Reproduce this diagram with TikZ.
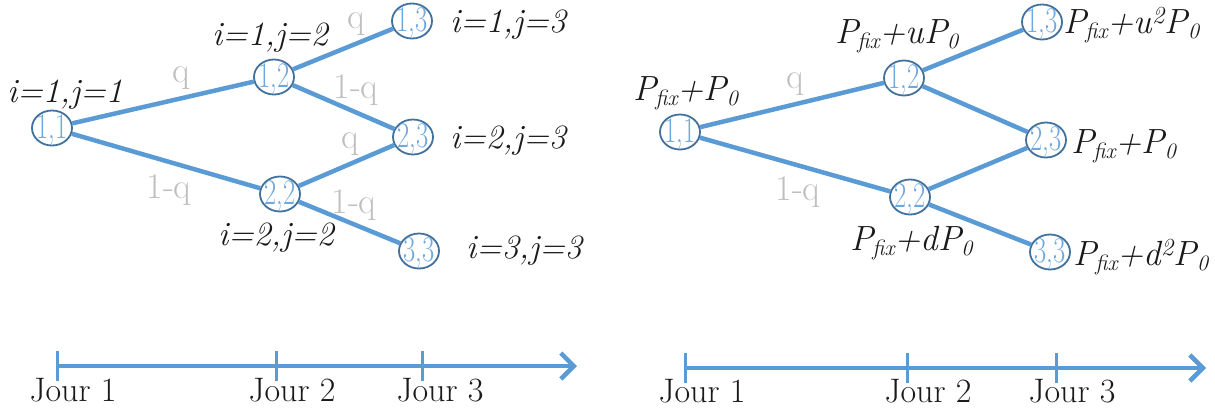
\documentclass[tikz,border=0pt]{standalone}
\usepackage{graphicx}
\usetikzlibrary{shapes.geometric,arrows.meta}
\definecolor{lineblue}{HTML}{5B9BD5}
\definecolor{ringblue}{HTML}{41719C}
\definecolor{numblue}{HTML}{6FA8DC}
\definecolor{lblgray}{HTML}{BFBFBF}
\definecolor{txt}{HTML}{1A1A1A}
\newcommand{\Pf}{P\kern-1pt\raisebox{-0.35ex}{\fontsize{22}{22}\selectfont fix}}
\newcommand{\Pz}{P\raisebox{-0.35ex}{\fontsize{22}{22}\selectfont 0}}
\newcommand{\st}[1]{\makebox[0pt]{\raisebox{-0.3em}[0pt][0pt]{\scalebox{0.74}[1]{#1}}}}
\begin{document}
\begin{tikzpicture}[x=1pt,y=-1pt,
  state/.style={ellipse,draw=ringblue,line width=1.8pt,fill=white,minimum width=40pt,minimum height=35pt,inner sep=0pt,text=numblue,font=\fontsize{36}{36}\selectfont},
  edge/.style={draw=lineblue,line width=4.5pt},
  plabel/.style={text=lblgray,font=\fontsize{36}{36}\selectfont,inner sep=0pt},
  ijlabel/.style={text=txt,font=\fontsize{34}{34}\selectfont\itshape,inner sep=0pt,anchor=base},
  plab/.style={text=txt,font=\fontsize{35}{35}\selectfont\itshape,inner sep=0pt,anchor=base west},
  axis/.style={draw=lineblue,line width=4.5pt,-{Straight Barb[length=13pt,width=26pt,line width=4.5pt]}},
  tickmark/.style={draw=lineblue,line width=3pt},
  jour/.style={text=txt,font=\fontsize{34}{34}\selectfont,inner sep=0pt,anchor=base}]
\useasboundingbox (0,0) rectangle (1215,408);
% ---------- left tree ----------
\node[state] (n11) at (52,128) {\st{1,1}};
\node[state] (n12) at (274,77) {\st{1,2}};
\node[state] (n13) at (412,21) {\st{1,3}};
\node[state] (n23) at (413,137) {\st{2,3}};
\node[state] (n22) at (280,194) {\st{2,2}};
\node[state] (n33) at (419,251) {\st{3,3}};
\draw[edge] (n11) -- (n12);
\draw[edge] (n11) -- (n22);
\draw[edge] (n12) -- (n13);
\draw[edge] (n12) -- (n23);
\draw[edge] (n22) -- (n23);
\draw[edge] (n22) -- (n33);
\node[plabel] (lq1) at (181,78) {q};
\node[plabel] (lq2) at (169,190) {1-q};
\node[plabel] (lq3) at (356,24) {q};
\node[plabel] (lq4) at (356,90) {1-q};
\node[plabel] (lq5) at (350,144) {q};
\node[plabel] (lq6) at (354,205) {1-q};
\node[ijlabel] (l11) at (65,102) {i=1,j=1};
\node[ijlabel] (l12) at (270,45) {i=1,j=2};
\node[ijlabel] (l13) at (508,32) {i=1,j=3};
\node[ijlabel] (l23) at (508,148) {i=2,j=3};
\node[ijlabel] (l22) at (276,245) {i=2,j=2};
\node[ijlabel] (l33) at (524,258) {i=3,j=3};
% ---------- right tree ----------
\node[state] (m11) at (680,132) {\st{1,1}};
\node[state] (m12) at (904,78) {\st{1,2}};
\node[state] (m13) at (1042,22) {\st{1,3}};
\node[state] (m23) at (1046,140) {\st{2,3}};
\node[state] (m22) at (910,197) {\st{2,2}};
\node[state] (m33) at (1050,252) {\st{3,3}};
\draw[edge] (m11) -- (m12);
\draw[edge] (m11) -- (m22);
\draw[edge] (m12) -- (m13);
\draw[edge] (m12) -- (m23);
\draw[edge] (m22) -- (m23);
\draw[edge] (m22) -- (m33);
\node[plabel] (rq1) at (795,84) {q};
\node[plabel] (rq2) at (798,192) {1-q};
\node[plab] (r11) at (633,100) {\Pf+\Pz};
\node[plab] (r12) at (835,43) {\Pf+u\Pz};
\node[plab] (r13) at (1063,33) {\Pf+u\textsuperscript{2}\Pz};
\node[plab] (r23) at (1071,153) {\Pf+\Pz};
\node[plab] (r22) at (850,250) {\Pf+d\Pz};
\node[plab] (r33) at (1073,265) {\Pf+d\textsuperscript{2}\Pz};
% ---------- timelines ----------
\coordinate (a1) at (57,366);
\coordinate (a2) at (276,366);
\coordinate (a3) at (422,366);
\coordinate (aend) at (577,366);
\draw[axis] (a1) -- (aend);
\foreach \c in {a1,a2,a3}{\draw[tickmark] ([yshift=15pt]\c) -- ([yshift=-15pt]\c);}
\node[jour] (j1) at (73,401) {Jour 1};
\node[jour] (j2) at (292,401) {Jour 2};
\node[jour] (j3) at (440,401) {Jour 3};
\coordinate (b1) at (685,368);
\coordinate (b2) at (907,368);
\coordinate (b3) at (1056,368);
\coordinate (bend) at (1206,368);
\draw[axis] (b1) -- (bend);
\foreach \c in {b1,b2,b3}{\draw[tickmark] ([yshift=15pt]\c) -- ([yshift=-15pt]\c);}
\node[jour] (k1) at (702,402) {Jour 1};
\node[jour] (k2) at (928,402) {Jour 2};
\node[jour] (k3) at (1072,402) {Jour 3};
\end{tikzpicture}
\end{document}
